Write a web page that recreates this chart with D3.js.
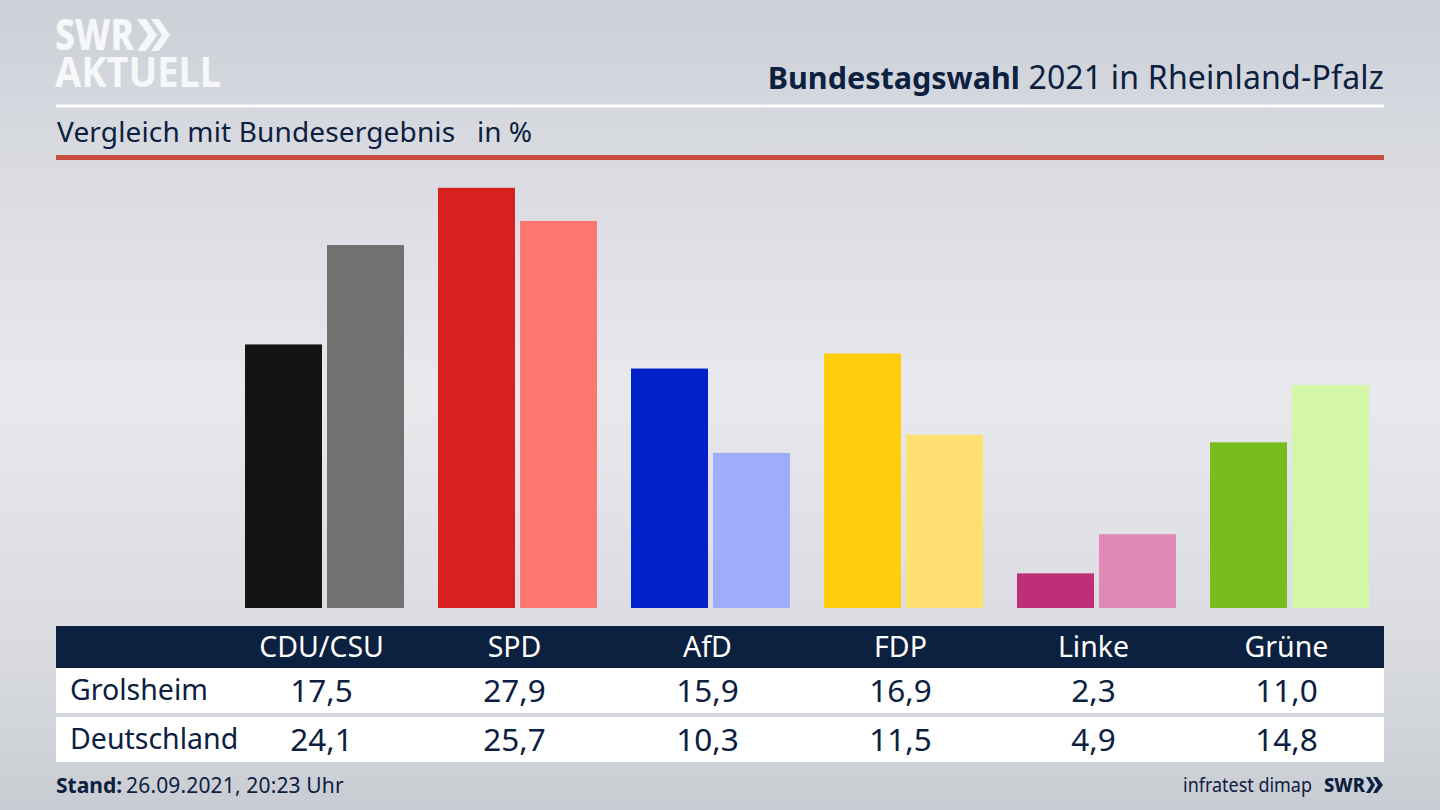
<!DOCTYPE html>
<html><head><meta charset="utf-8">
<script src="https://cdnjs.cloudflare.com/ajax/libs/d3/7.8.5/d3.min.js"></script>
<style>html,body{margin:0;padding:0;overflow:hidden;background:#dcdee3}svg{display:block}text{font-family:"Noto Sans",sans-serif}</style>
</head><body><svg id="c" width="1440" height="810"></svg>
<script>
const parties = ["CDU/CSU","SPD","AfD","FDP","Linke","Grüne"];
const regional = [17.5,27.9,15.9,16.9,2.3,11.0];
const national = [24.1,25.7,10.3,11.5,4.9,14.8];
const regionalColors = ["#141414","#d8201f","#0022c8","#ffcd0a","#bd3078","#78bc1e"];
const nationalColors = ["#73716f","#ff7570","#9fadff","#ffe070","#e088b6","#d3f6a9"];
const rowLabels = ["Grolsheim","Deutschland"];
const navy = "#0c203f";
const fmt = v => v.toFixed(1).replace(".",",");

const svg = d3.select("#c");
const defs = svg.append("defs");
const g = defs.append("linearGradient").attr("id","bg").attr("x1",0).attr("x2",0).attr("y1",0).attr("y2",1);
[[0,"#ccd0d7"],[0.2,"#d9dbe1"],[0.48,"#e8e9ed"],[0.8,"#d9dbe0"],[1,"#c9cdd3"]].forEach(s=>g.append("stop").attr("offset",s[0]).attr("stop-color",s[1]));
svg.append("rect").attr("width",1440).attr("height",810).attr("fill","url(#bg)");

// header
const txt=(x,y,s,size,opt={})=>svg.append("text").attr("x",x).attr("y",y).attr("font-size",size)
  .attr("fill",opt.fill||navy).attr("text-anchor",opt.anchor||"start").attr("font-weight",opt.weight||400).text(s);
const logo=svg.append("g");
logo.append("text").attr("x",55).attr("y",50).attr("font-size",42).attr("font-weight",800).attr("fill","#f6f7f8").attr("textLength",79).attr("lengthAdjust","spacingAndGlyphs").text("SWR");
logo.append("text").attr("x",55).attr("y",87).attr("font-size",42).attr("font-weight",700).attr("fill","#f6f7f8").attr("textLength",166).attr("lengthAdjust","spacingAndGlyphs").text("AKTUELL");
logo.append("path").attr("fill","#f6f7f8").attr("d","M137 19h9l11 16-11 16h-9l11-16zM151 19h8l11 16-11 16h-8l11-16z");

const title=svg.append("text").attr("x",1384).attr("y",89).attr("text-anchor","end").attr("fill",navy);
title.append("tspan").attr("font-weight",700).attr("font-size",30.5).text("Bundestagswahl");
title.append("tspan").attr("font-size",32).attr("letter-spacing",0.19).text(" 2021 in Rheinland-Pfalz");
svg.append("rect").attr("x",56).attr("y",104.5).attr("width",1328).attr("height",3).attr("fill","#fbfbfc");
txt(57,142,"Vergleich mit Bundesergebnis",28).attr("letter-spacing",0.15);
txt(477,142,"in %",28);
svg.append("rect").attr("x",56).attr("y",155).attr("width",1328).attr("height",5).attr("fill","#c84f3d");

// bars
const x = d3.scaleBand().domain(parties).range([245,245+193*6]);
const inner = d3.scaleBand().domain(["r","n"]).range([0,159]).paddingInner(5/82);
const y = d3.scaleLinear().domain([0,27.9]).range([608,187.8]);
const groups = svg.selectAll("g.party").data(parties).join("g").attr("class","party")
  .attr("transform",d=>`translate(${x(d)},0)`);
groups.append("rect").attr("x",inner("r")).attr("width",inner.bandwidth())
  .attr("y",(d,i)=>y(regional[i])).attr("height",(d,i)=>y(0)-y(regional[i])).attr("fill",(d,i)=>regionalColors[i]);
groups.append("rect").attr("x",inner("n")).attr("width",inner.bandwidth())
  .attr("y",(d,i)=>y(national[i])).attr("height",(d,i)=>y(0)-y(national[i])).attr("fill",(d,i)=>nationalColors[i]);

// table
svg.append("rect").attr("x",56).attr("y",626).attr("width",1328).attr("height",42).attr("fill",navy);
svg.append("rect").attr("x",56).attr("y",668).attr("width",1328).attr("height",45).attr("fill","#fff");
svg.append("rect").attr("x",56).attr("y",717).attr("width",1328).attr("height",45).attr("fill","#fff");
const col = p => x(p)+76.5;
parties.forEach((p,i)=>{
  txt(col(p),657,p,28.5,{anchor:"middle",fill:"#fff"});
  txt(col(p),702,fmt(regional[i]),31.5,{anchor:"middle"});
  txt(col(p),751,fmt(national[i]),31.5,{anchor:"middle"});
});
txt(70,700,rowLabels[0],28.5);
txt(70,749,rowLabels[1],28.5);

// footer
const st=svg.append("text").attr("x",56).attr("y",793).attr("fill",navy);
st.append("tspan").attr("font-weight",700).attr("font-size",21).text("Stand:");
st.append("tspan").attr("dx",4).attr("font-size",21).attr("letter-spacing",0.15).text("26.09.2021, 20:23 Uhr");
svg.append("text").attr("x",1183).attr("y",792).attr("font-size",20).attr("fill",navy).attr("textLength",129).attr("lengthAdjust","spacingAndGlyphs").text("infratest dimap");
svg.append("text").attr("x",1324).attr("y",792).attr("font-size",20).attr("font-weight",800).attr("fill",navy).attr("textLength",41).attr("lengthAdjust","spacingAndGlyphs").text("SWR");
svg.append("path").attr("fill",navy).attr("d","M1366 777h4l5 8-5 8h-4l5-8zM1373 777h4l6 8-6 8h-4l5-8z");
</script></body></html>
